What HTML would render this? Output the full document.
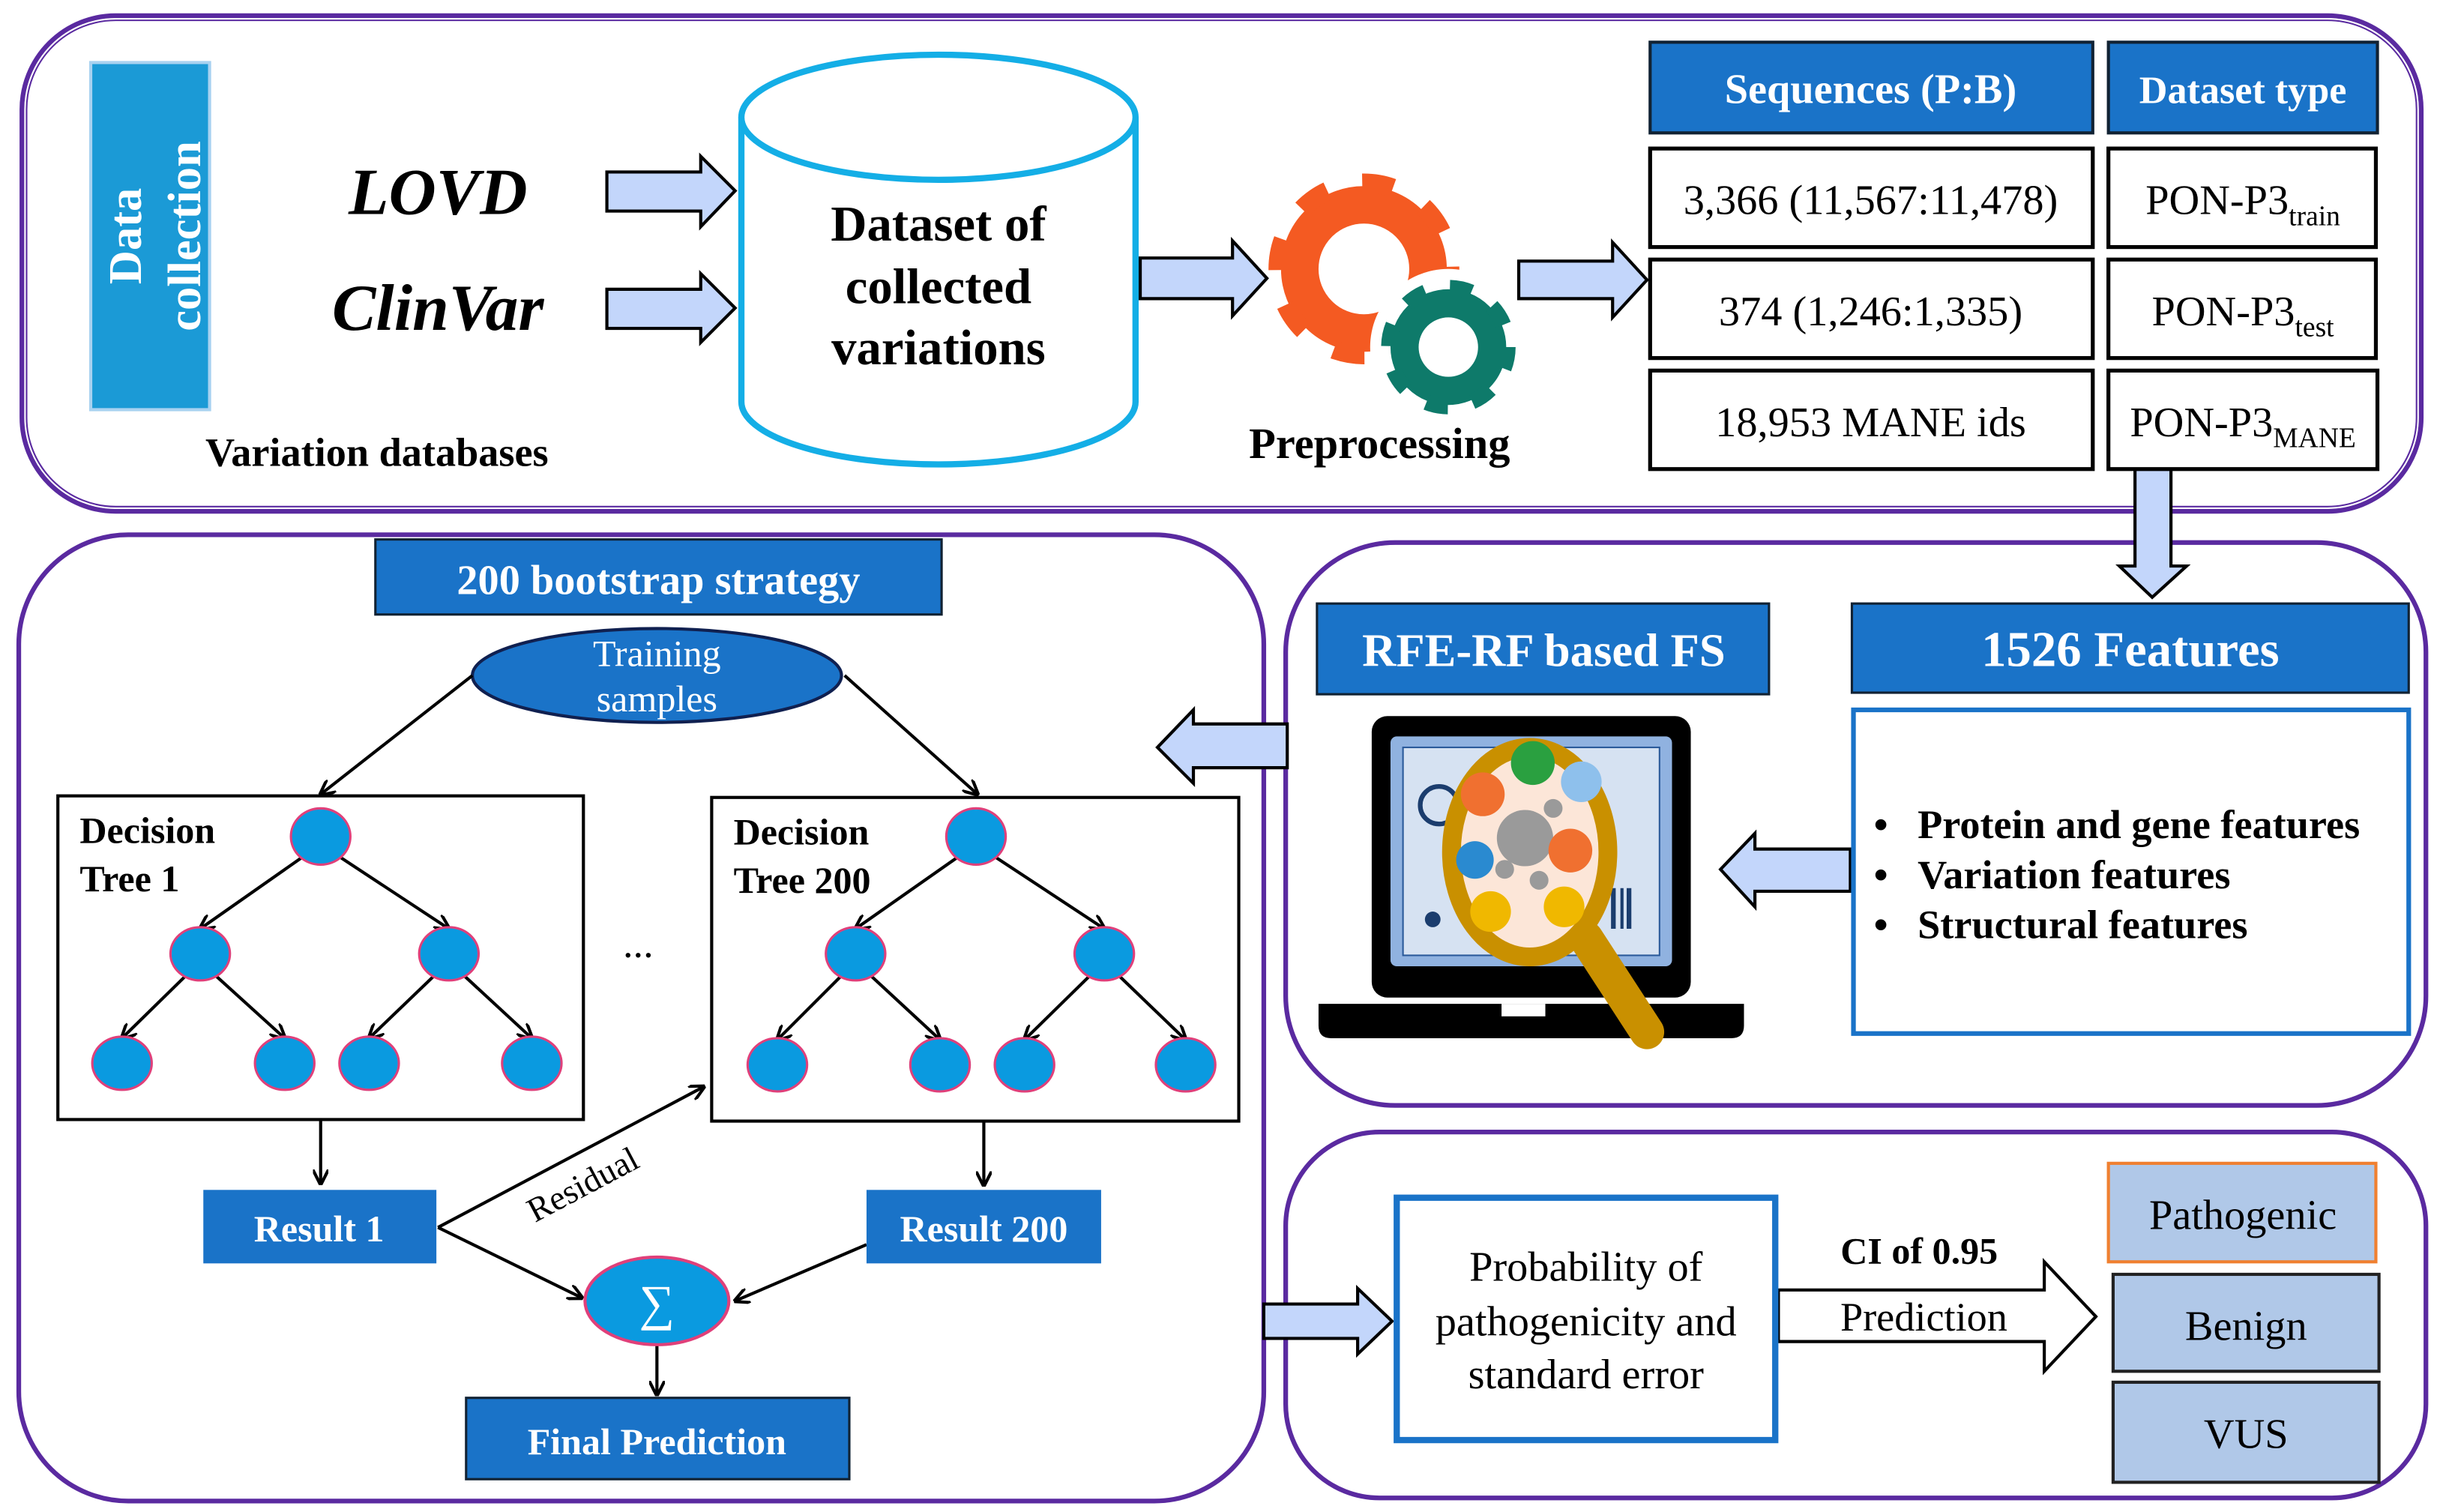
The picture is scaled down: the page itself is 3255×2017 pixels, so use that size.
<!DOCTYPE html>
<html><head><meta charset="utf-8"><style>html,body{margin:0;padding:0;background:#fff}svg{display:block;font-family:"Liberation Serif","Times New Roman",serif}svg text{font-family:"Liberation Serif","Times New Roman",serif}</style></head>
<body>
<svg width="3255" height="2017" viewBox="0 0 1560 967" preserveAspectRatio="none" xmlns="http://www.w3.org/2000/svg">
<defs>
<marker id="ah" markerWidth="10" markerHeight="10" refX="9" refY="5" orient="auto" markerUnits="userSpaceOnUse"><path d="M0,0 L10,5 L0,10" fill="none" stroke="#000" stroke-width="2"/></marker>
</defs>
<g fill="none" stroke="#5a2aa0">
<rect x="14" y="10" width="1534" height="317" rx="60" stroke-width="3"/>
<rect x="17" y="13" width="1528" height="311" rx="57" stroke-width="1"/>
<rect x="12" y="342" width="796" height="618" rx="70" stroke-width="3"/>
<rect x="822" y="347" width="729" height="360" rx="70" stroke-width="3"/>
<rect x="822" y="724" width="729" height="234" rx="60" stroke-width="3"/>
</g>
<rect x="58" y="40" width="76" height="222" fill="#1b9ad6" stroke="#a9d2f0" stroke-width="2"/>
<text transform="translate(90,151) rotate(-90)" text-anchor="middle" fill="#fff" font-weight="bold" font-size="30">Data</text>
<text transform="translate(128,151) rotate(-90)" text-anchor="middle" fill="#fff" font-weight="bold" font-size="30">collection</text>
<text x="280" y="137" text-anchor="middle" font-style="italic" font-weight="bold" font-size="42">LOVD</text>
<text x="280" y="211" text-anchor="middle" font-style="italic" font-weight="bold" font-size="42">ClinVar</text>
<text x="241" y="298" text-anchor="middle" font-weight="bold" font-size="26">Variation databases</text>
<g fill="#c3d6fb" stroke="#000" stroke-width="2">
<path d="M388,110 H448 V100 L470,122 L448,145 V135 H388 Z"/>
<path d="M388,185 H448 V175 L470,197 L448,219 V210 H388 Z"/>
<path d="M729,165 H788 V154 L810,178 L788,202 V191 H729 Z"/>
<path d="M971,167 H1031 V155 L1053,179 L1031,203 V191 H971 Z"/>
<path d="M1365,300 H1388 V362 H1398 L1376,382 L1355,362 H1365 Z"/>
<path d="M823,463 H763 V454 L740,478 L763,501 V491 H823 Z"/>
<path d="M1183,543 H1122 V533 L1100,556 L1122,580 V570 H1183 Z"/>
<path d="M808,834 H868 V824 L890,845 L868,866 V856 H808 Z"/>
</g>
<path d="M1137,825 H1307 V807 L1340,842 L1307,877 V858 H1137 Z" fill="#fff" stroke="#000" stroke-width="2"/>
<g fill="#fff" stroke="#14aee6" stroke-width="4">
<path d="M474,75 V257 A126,40 0 0 0 726,257 V75"/>
<ellipse cx="600" cy="75" rx="126" ry="40"/>
</g>
<g text-anchor="middle" font-weight="bold" font-size="32"><text x="600" y="154">Dataset of</text><text x="600" y="194">collected</text><text x="600" y="233">variations</text></g>
<circle cx="872" cy="172" r="41" fill="none" stroke="#f45a22" stroke-width="24"/>
<circle cx="872" cy="172" r="55" fill="none" stroke="#f45a22" stroke-width="12" stroke-dasharray="20 23"/>
<circle cx="926" cy="222" r="50" fill="#fff"/>
<circle cx="926" cy="222" r="28" fill="none" stroke="#0e7a6a" stroke-width="18"/>
<circle cx="926" cy="222" r="38" fill="none" stroke="#0e7a6a" stroke-width="10" stroke-dasharray="14 16"/>
<text x="882" y="293" text-anchor="middle" font-weight="bold" font-size="28">Preprocessing</text>
<rect x="1055" y="27" width="283" height="58" fill="#1a73c8" stroke="#123" stroke-width="2"/>
<rect x="1348" y="27" width="172" height="58" fill="#1a73c8" stroke="#123" stroke-width="2"/>
<text x="1196" y="66" text-anchor="middle" fill="#fff" font-weight="bold" font-size="27">Sequences (P:B)</text>
<text x="1434" y="66" text-anchor="middle" fill="#fff" font-weight="bold" font-size="25">Dataset type</text>
<g fill="#fff" stroke="#000" stroke-width="2.5">
<rect x="1055" y="95" width="283" height="63"/><rect x="1348" y="95" width="171" height="63"/>
<rect x="1055" y="166" width="283" height="63"/><rect x="1348" y="166" width="171" height="63"/>
<rect x="1055" y="237" width="283" height="63"/><rect x="1348" y="237" width="172" height="63"/>
</g>
<g text-anchor="middle" font-size="27">
<text x="1196" y="137">3,366 (11,567:11,478)</text>
<text x="1196" y="208">374 (1,246:1,335)</text>
<text x="1196" y="279">18,953 MANE ids</text>
<text x="1434" y="137">PON-P3<tspan font-size="18" dy="7">train</tspan></text>
<text x="1434" y="208">PON-P3<tspan font-size="18" dy="7">test</tspan></text>
<text x="1434" y="279">PON-P3<tspan font-size="18" dy="7">MANE</tspan></text>
</g>
<rect x="240" y="345" width="362" height="48" fill="#1a73c8" stroke="#123" stroke-width="1.5"/>
<text x="421" y="380" text-anchor="middle" fill="#fff" font-weight="bold" font-size="27">200 bootstrap strategy</text>
<ellipse cx="420" cy="432" rx="118" ry="30" fill="#1a73c8" stroke="#102050" stroke-width="2"/>
<text x="420" y="426" text-anchor="middle" fill="#fff" font-size="24">Training</text>
<text x="420" y="455" text-anchor="middle" fill="#fff" font-size="24">samples</text>
<g stroke="#000" stroke-width="2" fill="none" marker-end="url(#ah)">
<line x1="302" y1="432" x2="205" y2="508"/><line x1="540" y1="432" x2="625" y2="508"/>
<line x1="205" y1="540" x2="128" y2="594"/><line x1="205" y1="540" x2="287" y2="594"/>
<line x1="128" y1="615" x2="78" y2="664"/><line x1="128" y1="615" x2="182" y2="664"/>
<line x1="287" y1="615" x2="236" y2="664"/><line x1="287" y1="615" x2="340" y2="664"/>
<line x1="624" y1="540" x2="547" y2="594"/><line x1="624" y1="540" x2="706" y2="594"/>
<line x1="547" y1="615" x2="497" y2="665"/><line x1="547" y1="615" x2="601" y2="665"/>
<line x1="706" y1="615" x2="655" y2="665"/><line x1="706" y1="615" x2="758" y2="665"/>
<line x1="205" y1="716" x2="205" y2="757"/><line x1="629" y1="717" x2="629" y2="758"/>
<line x1="280" y1="785" x2="450" y2="695"/><line x1="280" y1="785" x2="372" y2="830"/>
<line x1="554" y1="796" x2="470" y2="832"/><line x1="420" y1="860" x2="420" y2="892"/>
</g>
<rect x="37" y="509" width="336" height="207" fill="none" stroke="#000" stroke-width="2"/>
<rect x="455" y="510" width="337" height="207" fill="none" stroke="#000" stroke-width="2"/>
<g font-weight="bold" font-size="24"><text x="51" y="539">Decision</text><text x="51" y="570">Tree 1</text><text x="469" y="540">Decision</text><text x="469" y="571">Tree 200</text></g>
<g fill="#0a9ae0" stroke="#e0407a" stroke-width="1.5">
<ellipse cx="205" cy="535" rx="19" ry="18"/><ellipse cx="128" cy="610" rx="19" ry="17"/><ellipse cx="287" cy="610" rx="19" ry="17"/>
<ellipse cx="78" cy="680" rx="19" ry="17"/><ellipse cx="182" cy="680" rx="19" ry="17"/><ellipse cx="236" cy="680" rx="19" ry="17"/><ellipse cx="340" cy="680" rx="19" ry="17"/>
<ellipse cx="624" cy="535" rx="19" ry="18"/><ellipse cx="547" cy="610" rx="19" ry="17"/><ellipse cx="706" cy="610" rx="19" ry="17"/>
<ellipse cx="497" cy="681" rx="19" ry="17"/><ellipse cx="601" cy="681" rx="19" ry="17"/><ellipse cx="655" cy="681" rx="19" ry="17"/><ellipse cx="758" cy="681" rx="19" ry="17"/>
</g>
<text x="408" y="612" text-anchor="middle" font-size="26">...</text>
<rect x="130" y="761" width="149" height="47" fill="#1a73c8"/>
<rect x="554" y="761" width="150" height="47" fill="#1a73c8"/>
<text x="204" y="794" text-anchor="middle" fill="#fff" font-weight="bold" font-size="24">Result 1</text>
<text x="629" y="794" text-anchor="middle" fill="#fff" font-weight="bold" font-size="24">Result 200</text>
<text transform="translate(376,764) rotate(-28)" text-anchor="middle" font-size="22">Residual</text>
<ellipse cx="420" cy="832" rx="46" ry="28" fill="#0a9ae0" stroke="#e0407a" stroke-width="2"/>
<text x="420" y="844" text-anchor="middle" fill="#fff" font-size="32">∑</text>
<rect x="298" y="894" width="245" height="52" fill="#1a73c8" stroke="#123" stroke-width="1.5"/>
<text x="420" y="930" text-anchor="middle" fill="#fff" font-weight="bold" font-size="24">Final Prediction</text>
<rect x="842" y="386" width="289" height="58" fill="#1a73c8" stroke="#123" stroke-width="1.5"/>
<text x="987" y="426" text-anchor="middle" fill="#fff" font-weight="bold" font-size="30">RFE-RF based FS</text>
<rect x="1184" y="386" width="356" height="57" fill="#1a73c8" stroke="#123" stroke-width="1.5"/>
<text x="1362" y="426" text-anchor="middle" fill="#fff" font-weight="bold" font-size="32">1526 Features</text>
<rect x="1185" y="454" width="355" height="207" fill="#fff" stroke="#1a73c8" stroke-width="3"/>
<g font-weight="bold" font-size="26"><text x="1198" y="536">•</text><text x="1226" y="536">Protein and gene features</text>
<text x="1198" y="568">•</text><text x="1226" y="568">Variation features</text>
<text x="1198" y="600">•</text><text x="1226" y="600">Structural features</text></g>
<rect x="877" y="458" width="204" height="180" rx="10" fill="#000"/>
<rect x="889" y="471" width="180" height="147" rx="4" fill="#90b2e0"/>
<rect x="897" y="478" width="164" height="133" fill="#d6e2f2" stroke="#2a5a9a"/>
<path d="M843,642 H1115 V656 Q1115,664 1107,664 H851 Q843,664 843,656 Z" fill="#000"/>
<rect x="960" y="642" width="28" height="8" fill="#fff"/>
<circle cx="920" cy="515" r="12" fill="none" stroke="#1b3d6e" stroke-width="3"/>
<g fill="#1b3d6e"><rect x="1030" y="568" width="3" height="26"/><rect x="1036" y="568" width="2" height="26"/><rect x="1040" y="568" width="3" height="26"/><circle cx="916" cy="588" r="5"/></g>
<line x1="1053" y1="660" x2="1014" y2="600" stroke="#c99000" stroke-width="22" stroke-linecap="round"/>
<ellipse cx="978" cy="545" rx="50" ry="67" fill="#fce6d8" stroke="#c99000" stroke-width="12"/>
<circle cx="980" cy="488" r="14" fill="#2aa040"/><circle cx="948" cy="508" r="14" fill="#f07030"/><circle cx="1011" cy="500" r="13" fill="#8ec0ec"/>
<circle cx="975" cy="536" r="18" fill="#9a9a9a"/><circle cx="1004" cy="544" r="14" fill="#f07030"/><circle cx="943" cy="550" r="12" fill="#2a8ad0"/>
<circle cx="953" cy="583" r="13" fill="#f0b800"/><circle cx="1000" cy="580" r="13" fill="#f0b800"/>
<circle cx="993" cy="517" r="6" fill="#9a9a9a"/><circle cx="962" cy="556" r="6" fill="#9a9a9a"/><circle cx="984" cy="563" r="6" fill="#9a9a9a"/>
<rect x="893" y="766" width="242" height="155" fill="#fff" stroke="#1a73c8" stroke-width="4"/>
<g text-anchor="middle" font-size="27"><text x="1014" y="819">Probability of</text><text x="1014" y="854">pathogenicity and</text><text x="1014" y="888">standard error</text></g>
<text x="1227" y="808" text-anchor="middle" font-weight="bold" font-size="24">CI of 0.95</text>
<text x="1230" y="851" text-anchor="middle" font-size="26">Prediction</text>
<rect x="1348" y="744" width="171" height="63" fill="#b0c8e8" stroke="#f08030" stroke-width="2"/>
<rect x="1351" y="815" width="170" height="62" fill="#b0c8e8" stroke="#222" stroke-width="2"/>
<rect x="1351" y="884" width="170" height="64" fill="#b0c8e8" stroke="#222" stroke-width="2"/>
<g text-anchor="middle" font-size="27"><text x="1434" y="786">Pathogenic</text><text x="1436" y="857">Benign</text><text x="1436" y="926">VUS</text></g>
</svg>
</body></html>
